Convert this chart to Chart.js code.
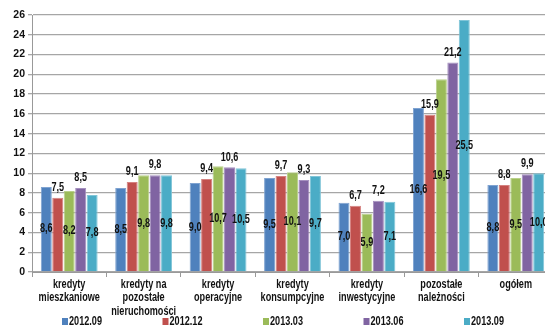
<!DOCTYPE html>
<html>
<head>
<meta charset="utf-8">
<script src="https://cdn.jsdelivr.net/npm/chart.js@4"></script>
<style>
  html, body { margin: 0; padding: 0; background: #fff; overflow: hidden; }
  #wrap { position: relative; width: 553px; height: 329px; }
</style>
</head>
<body>
<div id="wrap"><canvas id="chart"></canvas></div>
<script>
// kategorie i serie
const categories = [
  ['kredyty', 'mieszkaniowe'],
  ['kredyty na', 'pozostałe', 'nieruchomości'],
  ['kredyty', 'operacyjne'],
  ['kredyty', 'konsumpcyjne'],
  ['kredyty', 'inwestycyjne'],
  ['pozostałe', 'należności'],
  ['ogółem']
];
const seriesNames = ['2012.09', '2012.12', '2013.03', '2013.06', '2013.09'];
const s201209 = [8.6, 8.5, 9.0, 9.5, 7.0, 16.6, 8.8];
const s201212 = [7.5, 9.1, 9.4, 9.7, 6.7, 15.9, 8.8];
const s201303 = [8.2, 9.8, 10.7, 10.1, 5.9, 19.5, 9.5];
const s201306 = [8.5, 9.8, 10.6, 9.3, 7.2, 21.2, 9.9];
const s201309 = [7.8, 9.8, 10.5, 9.7, 7.1, 25.5, 10.0];
const yMax = 26;
const yStep = 2;

const colors = ['#4F81BD', '#C0504D', '#9BBB59', '#8064A2', '#4BACC6'];
const edges = ['#7FA3D1', '#D58280', '#B9D08A', '#A590BF', '#80C5D8'];
const allSeries = [s201209, s201212, s201303, s201306, s201309];
const FONT = "'Liberation Sans', Arial, sans-serif";
const NARROW = 0.76; // tekst w stylu Arial Narrow

function narrowText(ctx, txt, x, y) {
  ctx.save();
  ctx.translate(x, y);
  ctx.scale(NARROW, 1);
  ctx.fillText(txt, 0, 0);
  ctx.restore();
}

// etykiety danych: serie 0,2,4 w środku słupka, 1,3 nad słupkiem
const barLabels = {
  id: 'barLabels',
  afterDatasetsDraw(chart) {
    const ctx = chart.ctx;
    ctx.save();
    ctx.font = 'bold 12px ' + FONT;
    ctx.fillStyle = '#111';
    ctx.textAlign = 'center';
    ctx.textBaseline = 'middle';
    chart.data.datasets.forEach((ds, i) => {
      chart.getDatasetMeta(i).data.forEach((bar, j) => {
        const txt = ds.data[j].toFixed(1).replace('.', ',');
        const y = i % 2 === 0 ? (bar.y + bar.base) / 2 : bar.y - 10;
        narrowText(ctx, txt, bar.x, y);
      });
    });
    ctx.restore();
  }
};

// podpisy kategorii pod osią X
const xLabels = {
  id: 'xLabels',
  afterDraw(chart) {
    const ctx = chart.ctx;
    const xs = chart.scales.x;
    ctx.save();
    ctx.font = 'bold 12px ' + FONT;
    ctx.fillStyle = '#111';
    ctx.textAlign = 'center';
    ctx.textBaseline = 'middle';
    categories.forEach((lines, j) => {
      const x = xs.getPixelForValue(j);
      lines.forEach((ln, k) => narrowText(ctx, ln, x, 284.5 + k * 13.5));
    });
    ctx.restore();
  }
};

// legenda rysowana ręcznie na dole
const bottomLegend = {
  id: 'bottomLegend',
  afterDraw(chart) {
    const ctx = chart.ctx;
    ctx.save();
    ctx.font = 'bold 12px ' + FONT;
    ctx.textBaseline = 'middle';
    ctx.textAlign = 'left';
    const y = 322;
    const step = 100.5;
    const x0 = 62;
    chart.data.datasets.forEach((ds, i) => {
      const x = x0 + i * step;
      ctx.fillStyle = ds.backgroundColor;
      ctx.fillRect(x, y - 4, 6, 7);
      ctx.fillStyle = '#111';
      narrowText(ctx, ds.label, x + 7, y);
    });
    ctx.restore();
  }
};

new Chart(document.getElementById('chart'), {
  type: 'bar',
  data: {
    labels: categories.map(c => c.join(' ')),
    datasets: allSeries.map((d, i) => ({
      label: seriesNames[i],
      data: d,
      backgroundColor: colors[i],
      borderColor: edges[i],
      borderWidth: 1,
      barPercentage: 0.96,
      categoryPercentage: 0.77
    }))
  },
  options: {
    responsive: true,
    maintainAspectRatio: false,
    animation: false,
    layout: { padding: { top: 15, left: 0, right: 0, bottom: 0 } },
    plugins: {
      legend: { display: false },
      tooltip: { enabled: false }
    },
    scales: {
      x: {
        grid: {
          offset: true,
          drawOnChartArea: false,
          color: '#999',
          tickLength: 5
        },
        border: { color: '#999', width: 1 },
        ticks: { display: false },
        afterFit(scale) { scale.height = 57; }
      },
      y: {
        min: 0,
        max: yMax,
        ticks: {
          stepSize: yStep,
          color: '#111',
          font: { family: FONT, size: 10.5, weight: 'bold' },
          padding: 3
        },
        grid: {
          color: '#a6a6a6',
          lineWidth: 1.3,
          tickLength: 4
        },
        border: { color: '#999', width: 1 },
        afterFit(scale) { scale.width = 32; }
      }
    }
  },
  plugins: [barLabels, xLabels, bottomLegend]
});
</script>
</body>
</html>
